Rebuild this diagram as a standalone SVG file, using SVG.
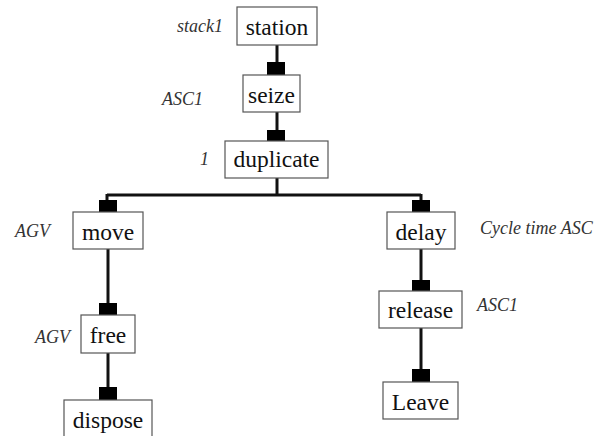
<svg xmlns="http://www.w3.org/2000/svg" width="595" height="436" viewBox="0 0 595 436">
  <style>
    .box { fill: #ffffff; stroke: #555555; stroke-width: 1.2; }
    .name { font-family: 'Liberation Serif', 'Tinos', 'DejaVu Serif', serif; font-size: 23.5px; fill: #111111; text-anchor: middle; }
    .note { font-family: 'Liberation Serif', 'Tinos', 'DejaVu Serif', serif; font-size: 18px; font-style: italic; fill: #333333; }
    .wire { fill: none; stroke: #111111; stroke-width: 3; }
    .port { fill: #000000; }
  </style>
  <rect width="595" height="436" fill="#ffffff"/>

  <!-- connectors -->
  <g id="connectors">
    <path class="wire" d="M277,45 V62"/>
    <path class="wire" d="M277,112 V130"/>
    <path class="wire" d="M277,178 V195 M107,195 H421 M107,194 V200 M421,194 V200"/>
    <path class="wire" d="M108,249 V303"/>
    <path class="wire" d="M108,353 V387"/>
    <path class="wire" d="M421,249 V280"/>
    <path class="wire" d="M421,328 V369"/>
    <rect class="port" x="267" y="62" width="18" height="13"/>
    <rect class="port" x="267" y="130" width="18" height="11"/>
    <rect class="port" x="99" y="200" width="18" height="12"/>
    <rect class="port" x="99" y="303" width="18" height="12"/>
    <rect class="port" x="99" y="387" width="18" height="13"/>
    <rect class="port" x="412" y="200" width="18" height="12"/>
    <rect class="port" x="412" y="280" width="18" height="11"/>
    <rect class="port" x="412" y="369" width="18" height="13"/>
  </g>

  <g id="station">
    <rect class="box" x="237" y="7" width="80" height="38"/>
    <text class="name" x="277" y="35" font-family="Liberation Serif">station</text>
    <text class="note" x="223" y="32" text-anchor="end">stack1</text>
  </g>
  <g id="seize">
    <rect class="box" x="243" y="75" width="57" height="37"/>
    <text class="name" x="271.5" y="103">seize</text>
    <text class="note" x="203" y="105" text-anchor="end">ASC1</text>
  </g>
  <g id="duplicate">
    <rect class="box" x="225" y="141" width="103" height="37"/>
    <text class="name" x="276.5" y="167">duplicate</text>
    <text class="note" x="209" y="165" text-anchor="end">1</text>
  </g>
  <g id="move">
    <rect class="box" x="73" y="212" width="70" height="37"/>
    <text class="name" x="108" y="240">move</text>
    <text class="note" x="50" y="237" text-anchor="end">AGV</text>
  </g>
  <g id="free">
    <rect class="box" x="81" y="315" width="54" height="38"/>
    <text class="name" x="108" y="343">free</text>
    <text class="note" x="70" y="343" text-anchor="end">AGV</text>
  </g>
  <g id="dispose">
    <rect class="box" x="64" y="400" width="88" height="40"/>
    <text class="name" x="108" y="428">dispose</text>
  </g>
  <g id="delay">
    <rect class="box" x="387" y="212" width="68" height="37"/>
    <text class="name" x="421" y="240">delay</text>
    <text class="note" x="480" y="234">Cycle time ASC</text>
  </g>
  <g id="release">
    <rect class="box" x="379" y="291" width="83" height="37"/>
    <text class="name" x="420.5" y="318">release</text>
    <text class="note" x="477" y="311">ASC1</text>
  </g>
  <g id="leave">
    <rect class="box" x="383" y="382" width="75" height="37"/>
    <text class="name" x="420.5" y="410">Leave</text>
  </g>
</svg>
